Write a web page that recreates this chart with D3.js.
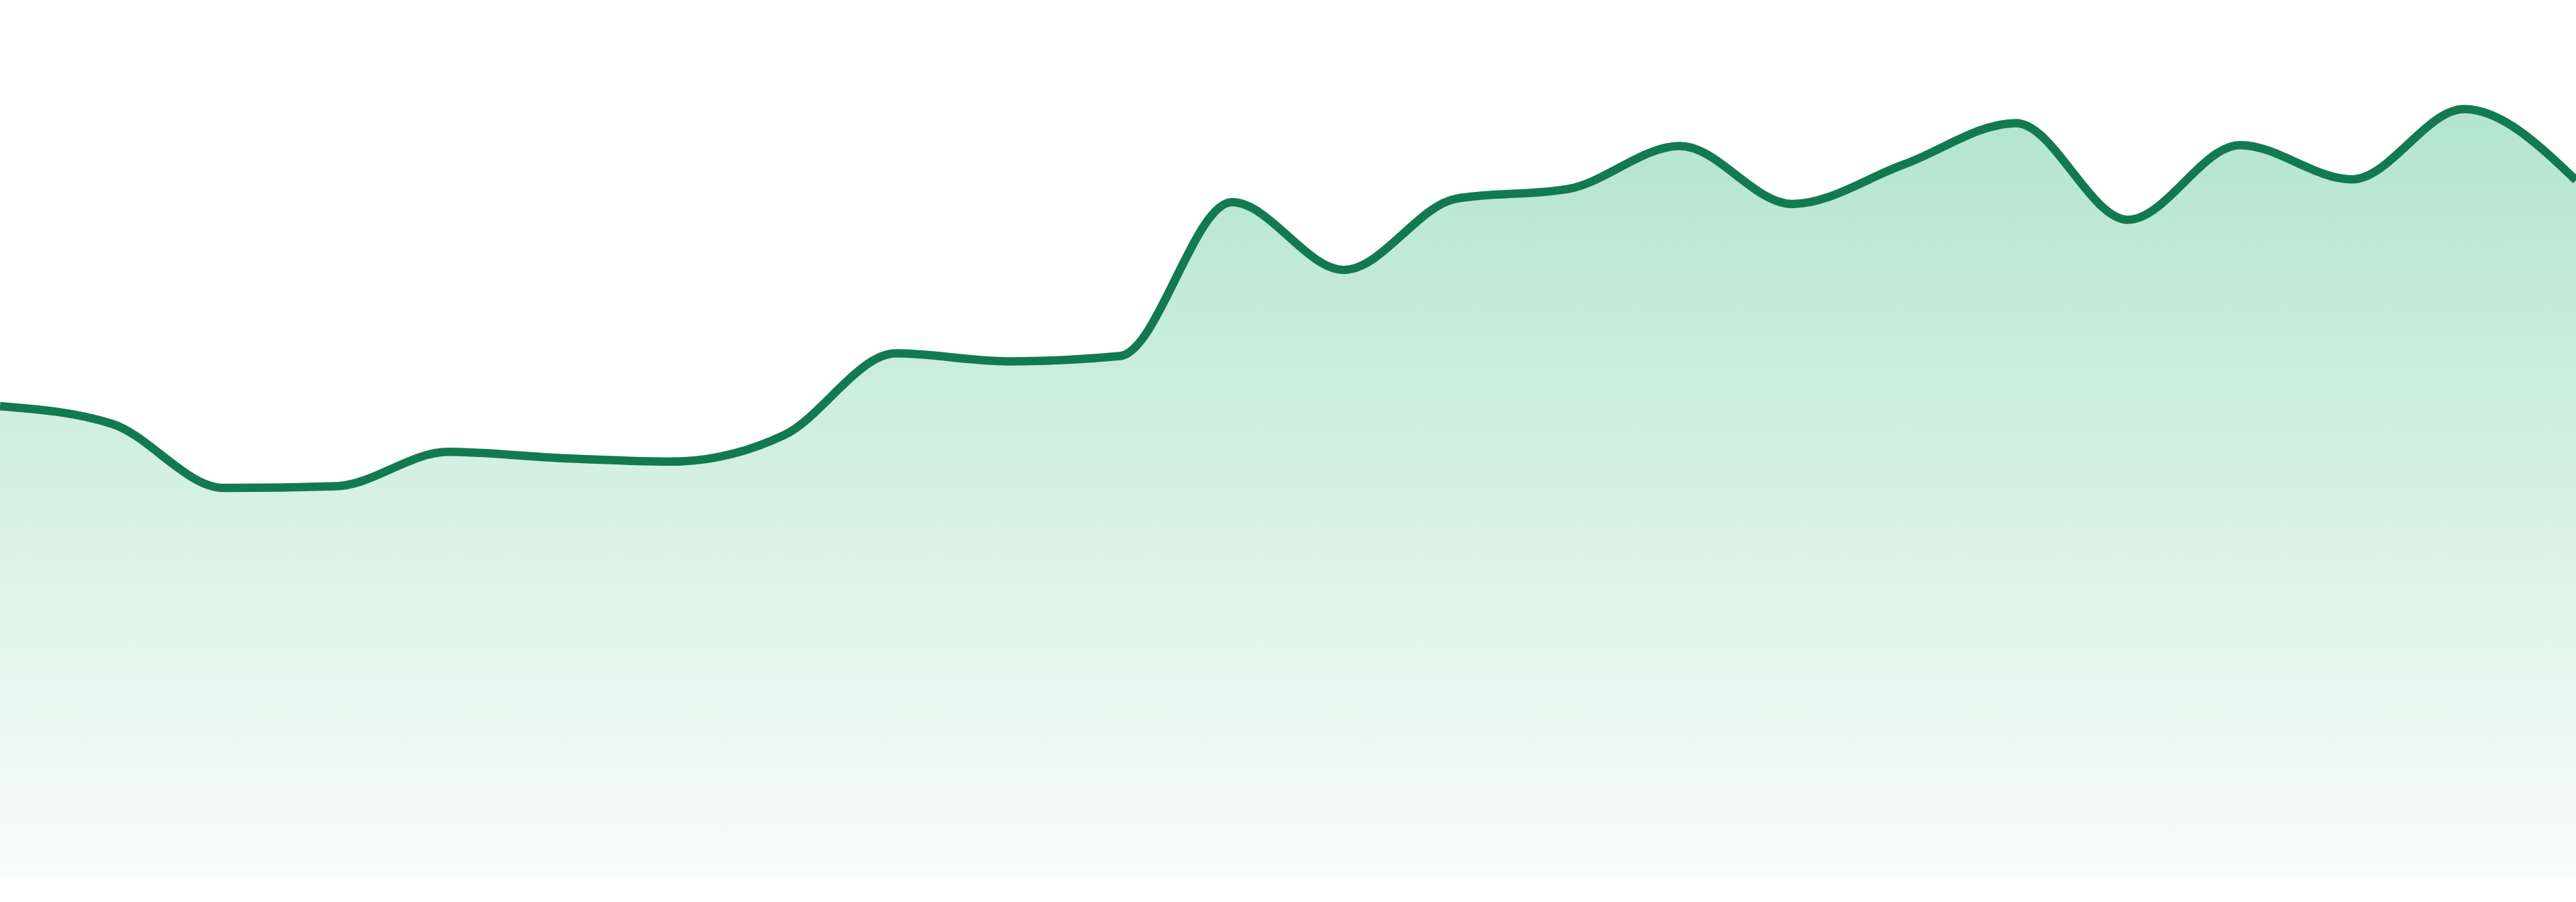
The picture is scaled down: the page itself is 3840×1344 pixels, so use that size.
<!DOCTYPE html>
<html>
<head>
<meta charset="utf-8">
<script src="https://cdn.jsdelivr.net/npm/d3@7"></script>
<style>
  html, body { margin: 0; padding: 0; background: #ffffff; }
  svg { display: block; }
</style>
</head>
<body>
<div id="wrapper"></div>
<script>
// one value per step
const steps = d3.range(24)
const values = [53.8, 51.8, 44.5, 44.7, 48.6, 47.9, 47.5, 50.5, 59.8, 58.9, 59.5, 77.0,
                69.3, 77.4, 78.5, 83.4, 76.8, 81.3, 86.0, 75.0, 83.5, 79.6, 87.6, 79.5]
const yDomain = [0, 100]

function draw() {
    var dimension = {
        width: 3840,
        height: 1344,
        baseline: 1310
    }

    const data = steps.map((s, i) => ({step: s, value: values[i]}))

    const x = d3.scaleLinear()
        .domain(d3.extent(steps))
        .range([0, dimension.width])

    const y = d3.scaleLinear()
        .domain(yDomain)
        .range([dimension.baseline, 0])

    const svg = d3.select("#wrapper")
        .append("svg")
        .attr("width", dimension.width)
        .attr("height", dimension.height)

    const grad = svg.append("defs")
        .append("linearGradient")
        .attr("id", "fade")
        .attr("gradientUnits", "userSpaceOnUse")
        .attr("x1", 0).attr("x2", 0)
        .attr("y1", y(d3.max(values)))
        .attr("y2", dimension.baseline)
    grad.append("stop").attr("offset", "0%").attr("stop-color", "#b3e4cf").attr("stop-opacity", 1)
    grad.append("stop").attr("offset", "100%").attr("stop-color", "#b3e4cf").attr("stop-opacity", 0.08)

    const area = d3.area()
        .x(d => x(d.step))
        .y0(y(0))
        .y1(d => y(d.value))
        .curve(d3.curveMonotoneX)

    const line = d3.line()
        .x(d => x(d.step))
        .y(d => y(d.value))
        .curve(d3.curveMonotoneX)

    svg.append("path")
        .datum(data)
        .attr("d", area)
        .attr("fill", "url(#fade)")

    svg.append("path")
        .datum(data)
        .attr("d", line)
        .attr("fill", "none")
        .attr("stroke", "#127a50")
        .attr("stroke-width", 12.5)
        .attr("stroke-linejoin", "round")
}

draw()
</script>
</body>
</html>
